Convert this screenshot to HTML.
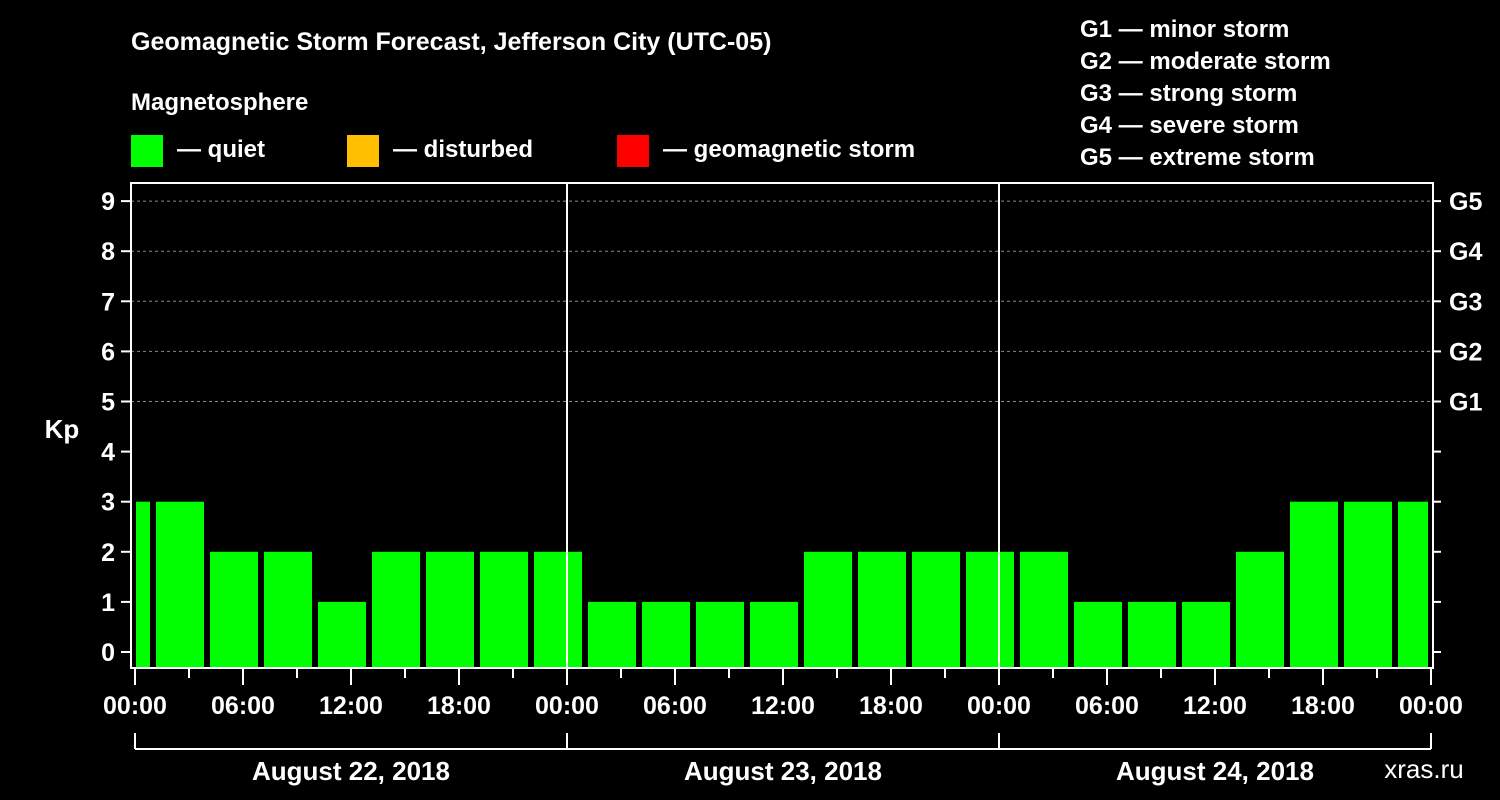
<!DOCTYPE html>
<html><head><meta charset="utf-8"><style>
body{margin:0;background:#000;}
svg{display:block;font-family:"Liberation Sans",sans-serif;font-weight:bold;}
</style></head><body>
<svg id="c" width="1500" height="800">
<rect width="1500" height="800" fill="#000"/>
<text x="131" y="50" fill="#fff" font-size="25">Geomagnetic Storm Forecast, Jefferson City (UTC-05)</text>
<text x="131" y="110" fill="#fff" font-size="24">Magnetosphere</text>
<g><rect x="131" y="135" width="32" height="32" fill="#00ff00"/><text x="177" y="157" fill="#fff" font-size="24">— quiet</text></g>
<g><rect x="347" y="135" width="32" height="32" fill="#ffbf00"/><text x="393" y="157" fill="#fff" font-size="24">— disturbed</text></g>
<g><rect x="617" y="135" width="32" height="32" fill="#ff0000"/><text x="663" y="157" fill="#fff" font-size="24">— geomagnetic storm</text></g>
<g fill="#fff" font-size="24">
<text x="1080" y="37">G1 — minor storm</text>
<text x="1080" y="69">G2 — moderate storm</text>
<text x="1080" y="101">G3 — strong storm</text>
<text x="1080" y="133">G4 — severe storm</text>
<text x="1080" y="165">G5 — extreme storm</text>
</g>
<text x="62" y="438" fill="#fff" font-size="26" text-anchor="middle">Kp</text>
<text x="1424" y="778" fill="#fff" font-size="26" text-anchor="middle" font-weight="normal">xras.ru</text>
<g id="g"></g>
</svg>
<script>
const kpValues=[3,3,2,2,1,2,2,2,2,1,1,1,1,2,2,2,2,2,1,1,1,2,3,3,3];
const slotStartHours=[-2,1,4,7,10,13,16,19,22,25,28,31,34,37,40,43,46,49,52,55,58,61,64,67,70];
const yTicks=[0,1,2,3,4,5,6,7,8,9];
const gLabels=["G1","G2","G3","G4","G5"];
const gLevels=[5,6,7,8,9];
const timeLabels=["00:00","06:00","12:00","18:00","00:00","06:00","12:00","18:00","00:00","06:00","12:00","18:00","00:00"];
const dayLabels=["August 22, 2018","August 23, 2018","August 24, 2018"];
const NS="http://www.w3.org/2000/svg";
const g=document.getElementById('g');
const L=131,R=1433,T=183,B=668;
const x=h=>135+h*18;
const y=v=>652-v*50.1;
function mk(t,a){const e=document.createElementNS(NS,t);for(const k in a)e.setAttribute(k,a[k]);g.appendChild(e);return e;}
yTicks.forEach(v=>{
 if(v>=5){const l=mk('line',{x1:L,x2:R,y1:y(v),y2:y(v),stroke:'#888','stroke-dasharray':'3,3','stroke-width':1});
 
 }
 mk('line',{x1:121,x2:L,y1:y(v),y2:y(v),stroke:'#fff','stroke-width':2});
 mk('line',{x1:R,x2:1441,y1:y(v),y2:y(v),stroke:'#fff','stroke-width':2});
 const t=mk('text',{x:115,y:y(v)+9,fill:'#fff','font-size':25,'text-anchor':'end'});t.textContent=v;
 
 
});
gLevels.forEach((v,i)=>{const t=mk('text',{x:1449,y:y(v)+9,fill:'#fff','font-size':25});t.textContent=gLabels[i];
 
 });
kpValues.forEach((v,i)=>{
 const h0=slotStartHours[i],h1=h0+3;
 const x0=Math.max(x(h0)+3,x(0)+1),x1=Math.min(x(h1)-3,x(72)-3);
 const c=v>=5?'#ff0000':(v>=4?'#ffbf00':'#00ff00');
 const r=mk('rect',{x:x0,y:y(v),width:x1-x0,height:B-y(v),fill:c});
 
 
});
[24,48].forEach(h=>mk('line',{x1:x(h),x2:x(h),y1:T,y2:B,stroke:'#fff','stroke-width':2}));
const f=mk('rect',{x:L,y:T,width:R-L,height:B-T,fill:'none',stroke:'#fff','stroke-width':2});


for(let h=0;h<=72;h+=3){mk('line',{x1:x(h),x2:x(h),y1:B,y2:B+(h%6?10:17),stroke:'#fff','stroke-width':2});}
timeLabels.forEach((s,i)=>{const t=mk('text',{x:x(i*6),y:714,fill:'#fff','font-size':25,'text-anchor':'middle'});t.textContent=s;
 
 });
mk('line',{x1:x(0),x2:x(72),y1:749,y2:749,stroke:'#fff','stroke-width':2});
[0,24,48,72].forEach(h=>mk('line',{x1:x(h),x2:x(h),y1:733,y2:749,stroke:'#fff','stroke-width':2}));
dayLabels.forEach((s,i)=>{const t=mk('text',{x:x(i*24+12),y:780,fill:'#fff','font-size':26,'text-anchor':'middle'});t.textContent=s;
 
 });
</script>
</body></html>
